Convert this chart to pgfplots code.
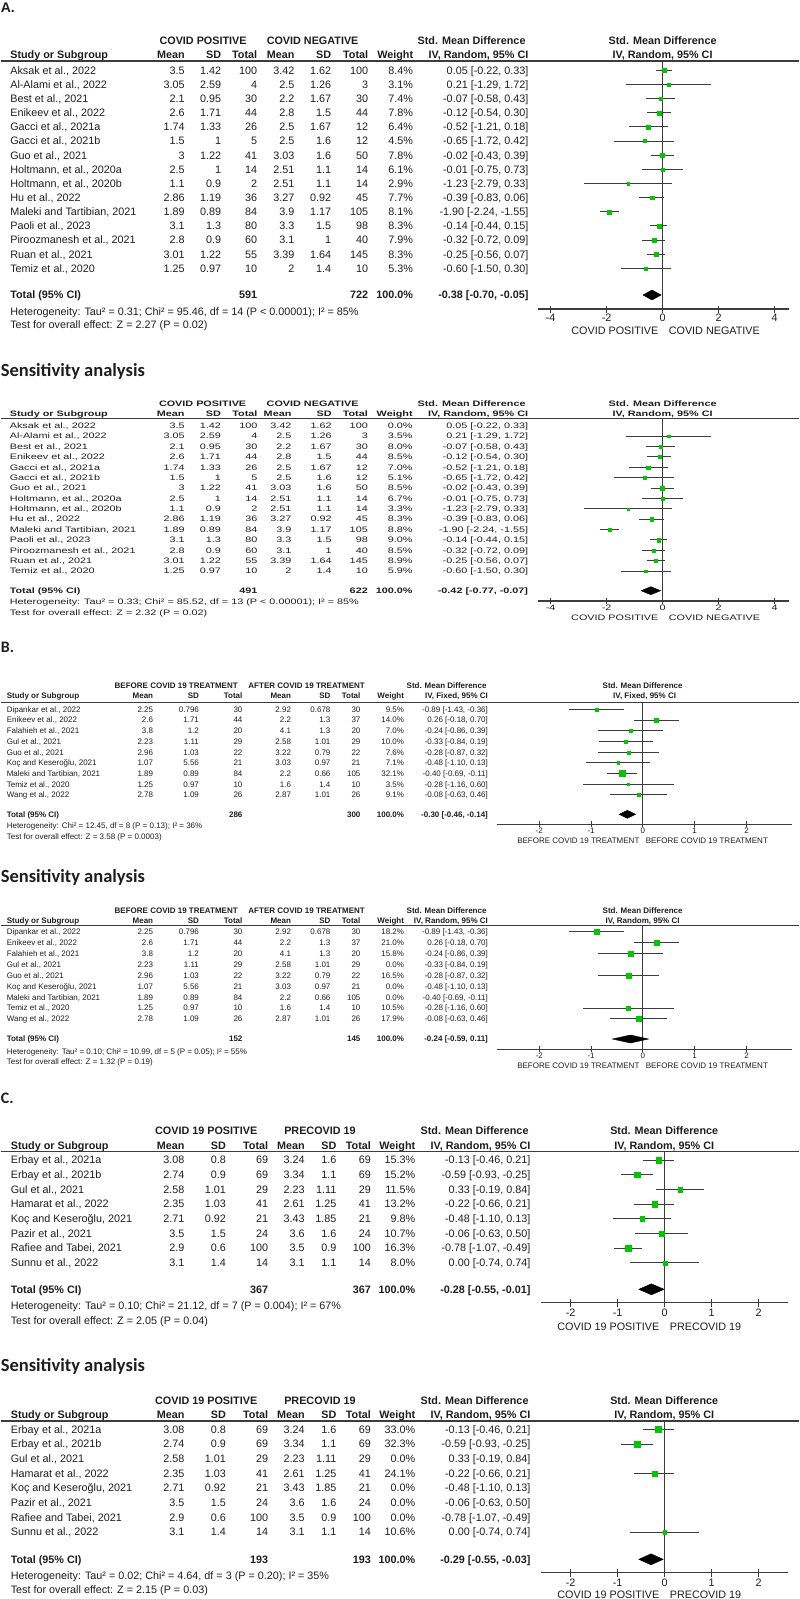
\documentclass[border=0pt]{standalone}
\usepackage{pgfplots}
\pgfplotsset{compat=1.18}
\usepackage{fontspec}
\setmainfont{Liberation Sans}
\newfontfamily\fsens{Liberation Sans}[FakeStretch=1.37]
\newfontfamily\fcal{Carlito}
\definecolor{gr}{RGB}{0,200,0}
\definecolor{txt}{RGB}{30,30,30}
\definecolor{ln}{RGB}{60,60,60}
\newcommand\fT{\fontsize{10.8}{12}\selectfont}
\tikzset{T/.style={font=\fT, inner sep=0pt, text=txt},
         B/.style={inner sep=0pt, text=txt, font=\fT\bfseries}}
\newcommand\setcols[9]{\def\xS{#1}\def\xMa{#2}\def\xSa{#3}\def\xNa{#4}\def\xMb{#5}\def\xSb{#6}\def\xNb{#7}\def\xW{#8}\def\xCI{#9}}
\newcommand\setrows[3]{\def\yz{#1}\def\dy{#2}\def\yoff{#3}}
\newcommand\Yb[1]{\pgfmathsetmacro\yb{-((#1)+\yoff)}}
\newcommand\Row[9]{%
  \pgfmathsetmacro\yb{-(\yz+(#1)*\dy+\yoff)}%
  \node[T,anchor=base west] at (\xS,\yb) {#2};%
  \node[T,anchor=base east] at (\xMa,\yb) {#3};%
  \node[T,anchor=base east] at (\xSa,\yb) {#4};%
  \node[T,anchor=base east] at (\xNa,\yb) {#5};%
  \node[T,anchor=base east] at (\xMb,\yb) {#6};%
  \node[T,anchor=base east] at (\xSb,\yb) {#7};%
  \node[T,anchor=base east] at (\xNb,\yb) {#8};%
  \node[T,anchor=base east] at (\xW,\yb) {#9};}
\newcommand\Ci[1]{\node[T,anchor=base east] at (\xCI,\yb) {#1};}
\newcommand\Hdr[2]{%
  \Yb{#1}%
  \node[B,anchor=base west] at (\xS,\yb) {Study or Subgroup};%
  \node[B,anchor=base east] at (\xMa,\yb) {Mean};%
  \node[B,anchor=base east] at (\xSa,\yb) {SD};%
  \node[B,anchor=base east] at (\xNa,\yb) {Total};%
  \node[B,anchor=base east] at (\xMb,\yb) {Mean};%
  \node[B,anchor=base east] at (\xSb,\yb) {SD};%
  \node[B,anchor=base east] at (\xNb,\yb) {Total};%
  \node[B,anchor=base east] at (\xW,\yb) {Weight};%
  \node[B,anchor=base east] at (\xCI,\yb) {#2};}
\newcommand\Tot[4]{%
  \Yb{#1}%
  \node[B,anchor=base west] at (\xS,\yb) {Total (95\% CI)};%
  \node[B,anchor=base east] at (\xNa,\yb) {#2};%
  \node[B,anchor=base east] at (\xNb,\yb) {#3};%
  \node[B,anchor=base east] at (\xW,\yb) {100.0\%};%
  \node[B,anchor=base east] at (\xCI,\yb) {#4};}
\newcommand\Line[2]{\Yb{#1}\node[T,anchor=base west] at (\xS,\yb) {#2};}
\newcommand\Bot[5]{\Yb{#1}\node[T,anchor=base east] at (#2,\yb) {#3};\node[T,anchor=base west] at (#4,\yb) {#5};}
\pgfplotsset{
 forest/.style={scale only axis, anchor=south west, clip=false, enlargelimits=false,
   axis x line=bottom, axis y line=none, ytick=\empty,
   x axis line style={-, draw=ln, line width=1.2pt},
   tick align=center, major tick length=7pt,
   xtick style={draw=ln, line width=1pt},
   xticklabel style={font=\fT, text=txt, inner sep=0pt, anchor=north}},
 pts/.style={scatter, only marks, mark=square*,
   scatter/use mapped color={draw=gr, fill=gr},
   mark options={line width=0.1pt},
   visualization depends on={#1*sqrt(\thisrow{w}) \as \ms},
   scatter/@pre marker code/.append style={/tikz/mark size=\ms},
   error bars/.cd, x dir=both, x explicit, error mark=none,
   error bar style={draw=ln, line width=0.9pt}},
}
\begin{document}
\begin{tikzpicture}[x=1pt,y=1pt]
\path (0,0) rectangle (798,-1599);
% ================= A main
\node[anchor=base west,inner sep=0pt,text=txt,font=\fontsize{14}{16}\selectfont\bfseries] at (0,-12) {A.};
\renewcommand\fT{\fontsize{10.8}{12}\selectfont}
\setcols{9.5}{184.3}{220.7}{256.7}{294}{330.7}{367.7}{412.7}{528}
\setrows{70.3}{14.14}{3.9}
\Yb{40.7}
\node[B,anchor=base] at (202.5,\yb) {COVID POSITIVE};
\node[B,anchor=base] at (312,\yb) {COVID NEGATIVE};
\node[B,anchor=base] at (471,\yb) {Std. Mean Difference};
\node[B,anchor=base] at (662,\yb) {Std. Mean Difference};
\Hdr{54.3}{IV, Random, 95\% CI}
\node[B,anchor=base] at (662,\yb) {IV, Random, 95\% CI};
\draw[ln, line width=1.2pt] (0,-61) -- (798,-61);
\Row{0}{Aksak et al., 2022}{3.5}{1.42}{100}{3.42}{1.62}{100}{8.4\%}\Ci{0.05 [-0.22, 0.33]}
\Row{1}{Al-Alami et al., 2022}{3.05}{2.59}{4}{2.5}{1.26}{3}{3.1\%}\Ci{0.21 [-1.29, 1.72]}
\Row{2}{Best et al., 2021}{2.1}{0.95}{30}{2.2}{1.67}{30}{7.4\%}\Ci{-0.07 [-0.58, 0.43]}
\Row{3}{Enikeev et al., 2022}{2.6}{1.71}{44}{2.8}{1.5}{44}{7.8\%}\Ci{-0.12 [-0.54, 0.30]}
\Row{4}{Gacci et al., 2021a}{1.74}{1.33}{26}{2.5}{1.67}{12}{6.4\%}\Ci{-0.52 [-1.21, 0.18]}
\Row{5}{Gacci et al., 2021b}{1.5}{1}{5}{2.5}{1.6}{12}{4.5\%}\Ci{-0.65 [-1.72, 0.42]}
\Row{6}{Guo et al., 2021}{3}{1.22}{41}{3.03}{1.6}{50}{7.8\%}\Ci{-0.02 [-0.43, 0.39]}
\Row{7}{Holtmann, et al., 2020a}{2.5}{1}{14}{2.51}{1.1}{14}{6.1\%}\Ci{-0.01 [-0.75, 0.73]}
\Row{8}{Holtmann, et al., 2020b}{1.1}{0.9}{2}{2.51}{1.1}{14}{2.9\%}\Ci{-1.23 [-2.79, 0.33]}
\Row{9}{Hu et al., 2022}{2.86}{1.19}{36}{3.27}{0.92}{45}{7.7\%}\Ci{-0.39 [-0.83, 0.06]}
\Row{10}{Maleki and Tartibian, 2021}{1.89}{0.89}{84}{3.9}{1.17}{105}{8.1\%}\Ci{-1.90 [-2.24, -1.55]}
\Row{11}{Paoli et al., 2023}{3.1}{1.3}{80}{3.3}{1.5}{98}{8.3\%}\Ci{-0.14 [-0.44, 0.15]}
\Row{12}{Piroozmanesh et al., 2021}{2.8}{0.9}{60}{3.1}{1}{40}{7.9\%}\Ci{-0.32 [-0.72, 0.09]}
\Row{13}{Ruan et al., 2021}{3.01}{1.22}{55}{3.39}{1.64}{145}{8.3\%}\Ci{-0.25 [-0.56, 0.07]}
\Row{14}{Temiz et al., 2020}{1.25}{0.97}{10}{2}{1.4}{10}{5.3\%}\Ci{-0.60 [-1.50, 0.30]}
\Tot{295}{591}{722}{-0.38 [-0.70, -0.05]}
\Line{311.5}{Heterogeneity: Tau² = 0.31; Chi² = 95.46, df = 14 (P < 0.00001); I² = 85\%}
\Line{325}{Test for overall effect: Z = 2.27 (P = 0.02)}
\Bot{331}{658}{COVID POSITIVE}{668}{COVID NEGATIVE}
\begin{axis}[forest, at={(537pt,-309pt)}, width=251pt, height=248pt, xmin=-4.464, xmax=4.5, ymin=-309, ymax=-61,
  xtick={-4,-2,0,2,4}, xticklabels={-4,-2,0,2,4}, xticklabel style={yshift=-1.5pt}]
\draw[ln, line width=0.9pt] (axis cs:0,-61) -- (axis cs:0,-309);
\addplot[pts=0.69] table[row sep=\\, x=e, y expr={-(70.3+\thisrow{i}*14.14)}, x error plus expr={\thisrow{hi}-\thisrow{e}}, x error minus expr={\thisrow{e}-\thisrow{lo}}] {
i e lo hi w\\
0 0.05 -0.22 0.33 8.4\\
1 0.21 -1.29 1.72 3.1\\
2 -0.07 -0.58 0.43 7.4\\
3 -0.12 -0.54 0.30 7.8\\
4 -0.52 -1.21 0.18 6.4\\
5 -0.65 -1.72 0.42 4.5\\
6 -0.02 -0.43 0.39 7.8\\
7 -0.01 -0.75 0.73 6.1\\
8 -1.23 -2.79 0.33 2.9\\
9 -0.39 -0.83 0.06 7.7\\
10 -1.90 -2.24 -1.55 8.1\\
11 -0.14 -0.44 0.15 8.3\\
12 -0.32 -0.72 0.09 7.9\\
13 -0.25 -0.56 0.07 8.3\\
14 -0.60 -1.50 0.30 5.3\\
};
\addplot[fill=black, draw=black] coordinates {(-0.70,-295) (-0.38,-290) (-0.05,-295) (-0.38,-300)} -- cycle;
\end{axis}
% ================= A sensitivity
\node[anchor=base west,inner sep=0pt,text=txt,font=\fcal\fontsize{18.5}{20}\selectfont\bfseries] at (0,-376) {Sensitivity analysis};
\renewcommand\fT{\fsens\fontsize{7.9}{9}\selectfont}
\setcols{9}{184.2}{220.5}{257}{291}{331.3}{367.4}{412.2}{527.7}
\setrows{425.7}{10.38}{2.8}
\Yb{403.3}
\node[B,anchor=base] at (202,\yb) {COVID POSITIVE};
\node[B,anchor=base] at (312,\yb) {COVID NEGATIVE};
\node[B,anchor=base] at (471,\yb) {Std. Mean Difference};
\node[B,anchor=base] at (662,\yb) {Std. Mean Difference};
\Hdr{414}{IV, Random, 95\% CI}
\node[B,anchor=base] at (662,\yb) {IV, Random, 95\% CI};
\draw[ln, line width=1.2pt] (0,-418.5) -- (798,-418.5);
\Row{0}{Aksak et al., 2022}{3.5}{1.42}{100}{3.42}{1.62}{100}{0.0\%}\Ci{0.05 [-0.22, 0.33]}
\Row{1}{Al-Alami et al., 2022}{3.05}{2.59}{4}{2.5}{1.26}{3}{3.5\%}\Ci{0.21 [-1.29, 1.72]}
\Row{2}{Best et al., 2021}{2.1}{0.95}{30}{2.2}{1.67}{30}{8.0\%}\Ci{-0.07 [-0.58, 0.43]}
\Row{3}{Enikeev et al., 2022}{2.6}{1.71}{44}{2.8}{1.5}{44}{8.5\%}\Ci{-0.12 [-0.54, 0.30]}
\Row{4}{Gacci et al., 2021a}{1.74}{1.33}{26}{2.5}{1.67}{12}{7.0\%}\Ci{-0.52 [-1.21, 0.18]}
\Row{5}{Gacci et al., 2021b}{1.5}{1}{5}{2.5}{1.6}{12}{5.1\%}\Ci{-0.65 [-1.72, 0.42]}
\Row{6}{Guo et al., 2021}{3}{1.22}{41}{3.03}{1.6}{50}{8.5\%}\Ci{-0.02 [-0.43, 0.39]}
\Row{7}{Holtmann, et al., 2020a}{2.5}{1}{14}{2.51}{1.1}{14}{6.7\%}\Ci{-0.01 [-0.75, 0.73]}
\Row{8}{Holtmann, et al., 2020b}{1.1}{0.9}{2}{2.51}{1.1}{14}{3.3\%}\Ci{-1.23 [-2.79, 0.33]}
\Row{9}{Hu et al., 2022}{2.86}{1.19}{36}{3.27}{0.92}{45}{8.3\%}\Ci{-0.39 [-0.83, 0.06]}
\Row{10}{Maleki and Tartibian, 2021}{1.89}{0.89}{84}{3.9}{1.17}{105}{8.8\%}\Ci{-1.90 [-2.24, -1.55]}
\Row{11}{Paoli et al., 2023}{3.1}{1.3}{80}{3.3}{1.5}{98}{9.0\%}\Ci{-0.14 [-0.44, 0.15]}
\Row{12}{Piroozmanesh et al., 2021}{2.8}{0.9}{60}{3.1}{1}{40}{8.5\%}\Ci{-0.32 [-0.72, 0.09]}
\Row{13}{Ruan et al., 2021}{3.01}{1.22}{55}{3.39}{1.64}{145}{8.9\%}\Ci{-0.25 [-0.56, 0.07]}
\Row{14}{Temiz et al., 2020}{1.25}{0.97}{10}{2}{1.4}{10}{5.9\%}\Ci{-0.60 [-1.50, 0.30]}
\Tot{590.7}{491}{622}{-0.42 [-0.77, -0.07]}
\Line{602}{Heterogeneity: Tau² = 0.33; Chi² = 85.52, df = 13 (P < 0.00001); I² = 85\%}
\Line{612.7}{Test for overall effect: Z = 2.32 (P = 0.02)}
\Bot{617.5}{658}{COVID POSITIVE}{668}{COVID NEGATIVE}
\begin{axis}[forest, at={(537pt,-601pt)}, width=251pt, height=182.5pt, xmin=-4.464, xmax=4.5, ymin=-601, ymax=-418.5,
  xtick={-4,-2,0,2,4}, xticklabels={-4,-2,0,2,4}, xticklabel style={yshift=-0.5pt}, major tick length=6pt]
\draw[ln, line width=0.9pt] (axis cs:0,-418.5) -- (axis cs:0,-601);
\addplot[pts=0.58] table[row sep=\\, x=e, y expr={-(425.7+\thisrow{i}*10.38)}, x error plus expr={\thisrow{hi}-\thisrow{e}}, x error minus expr={\thisrow{e}-\thisrow{lo}}] {
i e lo hi w\\
1 0.21 -1.29 1.72 3.5\\
2 -0.07 -0.58 0.43 8.0\\
3 -0.12 -0.54 0.30 8.5\\
4 -0.52 -1.21 0.18 7.0\\
5 -0.65 -1.72 0.42 5.1\\
6 -0.02 -0.43 0.39 8.5\\
7 -0.01 -0.75 0.73 6.7\\
8 -1.23 -2.79 0.33 3.3\\
9 -0.39 -0.83 0.06 8.3\\
10 -1.90 -2.24 -1.55 8.8\\
11 -0.14 -0.44 0.15 9.0\\
12 -0.32 -0.72 0.09 8.5\\
13 -0.25 -0.56 0.07 8.9\\
14 -0.60 -1.50 0.30 5.9\\
};
\addplot[fill=black, draw=black] coordinates {(-0.77,-590.7) (-0.42,-586.7) (-0.07,-590.7) (-0.42,-594.7)} -- cycle;
\end{axis}
% ================= B main
\node[anchor=base west,inner sep=0pt,text=txt,font=\fcal\fontsize{16}{18}\selectfont\bfseries] at (0,-652) {B.};
\renewcommand\fT{\fontsize{8}{9.5}\selectfont}
\setcols{6}{152.7}{198.5}{242}{290.6}{330}{360}{403.6}{487.5}
\setrows{709.3}{10.7}{2.9}
\Yb{686}
\node[B,anchor=base] at (175.6,\yb) {BEFORE COVID 19 TREATMENT};
\node[B,anchor=base] at (306,\yb) {AFTER COVID 19 TREATMENT};
\node[B,anchor=base] at (446,\yb) {Std. Mean Difference};
\node[B,anchor=base] at (642,\yb) {Std. Mean Difference};
\Hdr{696}{IV, Fixed, 95\% CI}
\node[B,anchor=base] at (644,\yb) {IV, Fixed, 95\% CI};
\draw[ln, line width=1.2pt] (0,-702.3) -- (798,-702.3);
\Row{0}{Dipankar et al., 2022}{2.25}{0.796}{30}{2.92}{0.678}{30}{9.5\%}\Ci{-0.89 [-1.43, -0.36]}
\Row{1}{Enikeev et al., 2022}{2.6}{1.71}{44}{2.2}{1.3}{37}{14.0\%}\Ci{0.26 [-0.18, 0.70]}
\Row{2}{Falahieh et al., 2021}{3.8}{1.2}{20}{4.1}{1.3}{20}{7.0\%}\Ci{-0.24 [-0.86, 0.39]}
\Row{3}{Gul et al., 2021}{2.23}{1.11}{29}{2.58}{1.01}{29}{10.0\%}\Ci{-0.33 [-0.84, 0.19]}
\Row{4}{Guo et al., 2021}{2.96}{1.03}{22}{3.22}{0.79}{22}{7.6\%}\Ci{-0.28 [-0.87, 0.32]}
\Row{5}{Koç and Keseroğlu, 2021}{1.07}{5.56}{21}{3.03}{0.97}{21}{7.1\%}\Ci{-0.48 [-1.10, 0.13]}
\Row{6}{Maleki and Tartibian, 2021}{1.89}{0.89}{84}{2.2}{0.66}{105}{32.1\%}\Ci{-0.40 [-0.69, -0.11]}
\Row{7}{Temiz et al., 2020}{1.25}{0.97}{10}{1.6}{1.4}{10}{3.5\%}\Ci{-0.28 [-1.16, 0.60]}
\Row{8}{Wang et al., 2022}{2.78}{1.09}{26}{2.87}{1.01}{26}{9.1\%}\Ci{-0.08 [-0.63, 0.46]}
\Tot{814.3}{286}{300}{-0.30 [-0.46, -0.14]}
\Line{826}{Heterogeneity: Chi² = 12.45, df = 8 (P = 0.13); I² = 36\%}
\Line{836.7}{Test for overall effect: Z = 3.58 (P = 0.0003)}
\Bot{841}{639}{BEFORE COVID 19 TREATMENT}{645}{BEFORE COVID 19 TREATMENT}
\begin{axis}[forest, at={(496pt,-824.3pt)}, width=295pt, height=122pt, xmin=-2.824, xmax=2.871, ymin=-824.3, ymax=-702.3,
  xtick={-2,-1,0,1,2}, xticklabels={-2,-1,0,1,2}, xticklabel style={yshift=-0.5pt}, major tick length=6pt]
\draw[ln, line width=0.9pt] (axis cs:0,-702.3) -- (axis cs:0,-824.3);
\addplot[pts=0.53] table[row sep=\\, x=e, y expr={-(709.3+\thisrow{i}*10.7)}, x error plus expr={\thisrow{hi}-\thisrow{e}}, x error minus expr={\thisrow{e}-\thisrow{lo}}] {
i e lo hi w\\
0 -0.89 -1.43 -0.36 9.5\\
1 0.26 -0.18 0.70 14.0\\
2 -0.24 -0.86 0.39 7.0\\
3 -0.33 -0.84 0.19 10.0\\
4 -0.28 -0.87 0.32 7.6\\
5 -0.48 -1.10 0.13 7.1\\
6 -0.40 -0.69 -0.11 32.1\\
7 -0.28 -1.16 0.60 3.5\\
8 -0.08 -0.63 0.46 9.1\\
};
\addplot[fill=black, draw=black] coordinates {(-0.46,-814.3) (-0.30,-810.3) (-0.14,-814.3) (-0.30,-818.3)} -- cycle;
\end{axis}
% ================= B sensitivity
\node[anchor=base west,inner sep=0pt,text=txt,font=\fcal\fontsize{18.5}{20}\selectfont\bfseries] at (0,-882.5) {Sensitivity analysis};
\setrows{931.7}{10.9}{2.9}
\Yb{911}
\node[B,anchor=base] at (175.6,\yb) {BEFORE COVID 19 TREATMENT};
\node[B,anchor=base] at (306,\yb) {AFTER COVID 19 TREATMENT};
\node[B,anchor=base] at (446,\yb) {Std. Mean Difference};
\node[B,anchor=base] at (642,\yb) {Std. Mean Difference};
\Hdr{921}{IV, Random, 95\% CI}
\node[B,anchor=base] at (642,\yb) {IV, Random, 95\% CI};
\draw[ln, line width=1.2pt] (0,-925.7) -- (798,-925.7);
\Row{0}{Dipankar et al., 2022}{2.25}{0.796}{30}{2.92}{0.678}{30}{18.2\%}\Ci{-0.89 [-1.43, -0.36]}
\Row{1}{Enikeev et al., 2022}{2.6}{1.71}{44}{2.2}{1.3}{37}{21.0\%}\Ci{0.26 [-0.18, 0.70]}
\Row{2}{Falahieh et al., 2021}{3.8}{1.2}{20}{4.1}{1.3}{20}{15.8\%}\Ci{-0.24 [-0.86, 0.39]}
\Row{3}{Gul et al., 2021}{2.23}{1.11}{29}{2.58}{1.01}{29}{0.0\%}\Ci{-0.33 [-0.84, 0.19]}
\Row{4}{Guo et al., 2021}{2.96}{1.03}{22}{3.22}{0.79}{22}{16.5\%}\Ci{-0.28 [-0.87, 0.32]}
\Row{5}{Koç and Keseroğlu, 2021}{1.07}{5.56}{21}{3.03}{0.97}{21}{0.0\%}\Ci{-0.48 [-1.10, 0.13]}
\Row{6}{Maleki and Tartibian, 2021}{1.89}{0.89}{84}{2.2}{0.66}{105}{0.0\%}\Ci{-0.40 [-0.69, -0.11]}
\Row{7}{Temiz et al., 2020}{1.25}{0.97}{10}{1.6}{1.4}{10}{10.5\%}\Ci{-0.28 [-1.16, 0.60]}
\Row{8}{Wang et al., 2022}{2.78}{1.09}{26}{2.87}{1.01}{26}{17.9\%}\Ci{-0.08 [-0.63, 0.46]}
\Tot{1039}{152}{145}{-0.24 [-0.59, 0.11]}
\Line{1051.7}{Heterogeneity: Tau² = 0.10; Chi² = 10.99, df = 5 (P = 0.05); I² = 55\%}
\Line{1061.7}{Test for overall effect: Z = 1.32 (P = 0.19)}
\Bot{1066}{639}{BEFORE COVID 19 TREATMENT}{645}{BEFORE COVID 19 TREATMENT}
\begin{axis}[forest, at={(496pt,-1049.3pt)}, width=295pt, height=123.6pt, xmin=-2.824, xmax=2.871, ymin=-1049.3, ymax=-925.7,
  xtick={-2,-1,0,1,2}, xticklabels={-2,-1,0,1,2}, xticklabel style={yshift=-0.5pt}, major tick length=6pt]
\draw[ln, line width=0.9pt] (axis cs:0,-925.7) -- (axis cs:0,-1049.3);
\addplot[pts=0.57] table[row sep=\\, x=e, y expr={-(931.7+\thisrow{i}*10.9)}, x error plus expr={\thisrow{hi}-\thisrow{e}}, x error minus expr={\thisrow{e}-\thisrow{lo}}] {
i e lo hi w\\
0 -0.89 -1.43 -0.36 18.2\\
1 0.26 -0.18 0.70 21.0\\
2 -0.24 -0.86 0.39 15.8\\
4 -0.28 -0.87 0.32 16.5\\
7 -0.28 -1.16 0.60 10.5\\
8 -0.08 -0.63 0.46 17.9\\
};
\addplot[fill=black, draw=black] coordinates {(-0.59,-1039) (-0.24,-1035) (0.11,-1039) (-0.24,-1043)} -- cycle;
\end{axis}
% ================= C main
\node[anchor=base west,inner sep=0pt,text=txt,font=\fcal\fontsize{16}{18}\selectfont\bfseries] at (0,-1103.5) {C.};
\renewcommand\fT{\fontsize{10.8}{12}\selectfont}
\setcols{10}{184}{225.4}{267.7}{304.3}{336}{370.5}{414.8}{530}
\setrows{1160}{14.67}{3.9}
\Yb{1131}
\node[B,anchor=base] at (205.6,\yb) {COVID 19 POSITIVE};
\node[B,anchor=base] at (319.4,\yb) {PRECOVID 19};
\node[B,anchor=base] at (474,\yb) {Std. Mean Difference};
\node[B,anchor=base] at (663.6,\yb) {Std. Mean Difference};
\Hdr{1145.7}{IV, Random, 95\% CI}
\node[B,anchor=base] at (663.6,\yb) {IV, Random, 95\% CI};
\draw[ln, line width=1.2pt] (0,-1151.7) -- (798,-1151.7);
\Row{0}{Erbay et al., 2021a}{3.08}{0.8}{69}{3.24}{1.6}{69}{15.3\%}\Ci{-0.13 [-0.46, 0.21]}
\Row{1}{Erbay et al., 2021b}{2.74}{0.9}{69}{3.34}{1.1}{69}{15.2\%}\Ci{-0.59 [-0.93, -0.25]}
\Row{2}{Gul et al., 2021}{2.58}{1.01}{29}{2.23}{1.11}{29}{11.5\%}\Ci{0.33 [-0.19, 0.84]}
\Row{3}{Hamarat et al., 2022}{2.35}{1.03}{41}{2.61}{1.25}{41}{13.2\%}\Ci{-0.22 [-0.66, 0.21]}
\Row{4}{Koç and Keseroğlu, 2021}{2.71}{0.92}{21}{3.43}{1.85}{21}{9.8\%}\Ci{-0.48 [-1.10, 0.13]}
\Row{5}{Pazir et al., 2021}{3.5}{1.5}{24}{3.6}{1.6}{24}{10.7\%}\Ci{-0.06 [-0.63, 0.50]}
\Row{6}{Rafiee and Tabei, 2021}{2.9}{0.6}{100}{3.5}{0.9}{100}{16.3\%}\Ci{-0.78 [-1.07, -0.49]}
\Row{7}{Sunnu et al., 2022}{3.1}{1.4}{14}{3.1}{1.1}{14}{8.0\%}\Ci{0.00 [-0.74, 0.74]}
\Tot{1289.3}{367}{367}{-0.28 [-0.55, -0.01]}
\Line{1306}{Heterogeneity: Tau² = 0.10; Chi² = 21.12, df = 7 (P = 0.004); I² = 67\%}
\Line{1320.7}{Test for overall effect: Z = 2.05 (P = 0.04)}
\Bot{1326.5}{659}{COVID 19 POSITIVE}{669}{PRECOVID 19}
\begin{axis}[forest, at={(540.5pt,-1302.7pt)}, width=247.3pt, height=151pt, xmin=-2.628, xmax=2.634, ymin=-1302.7, ymax=-1151.7,
  xtick={-2,-1,0,1,2}, xticklabels={-2,-1,0,1,2}, xticklabel style={yshift=-2pt}, major tick length=8pt]
\draw[ln, line width=0.9pt] (axis cs:0,-1151.7) -- (axis cs:0,-1302.7);
\addplot[pts=0.7] table[row sep=\\, x=e, y expr={-(1160+\thisrow{i}*14.67)}, x error plus expr={\thisrow{hi}-\thisrow{e}}, x error minus expr={\thisrow{e}-\thisrow{lo}}] {
i e lo hi w\\
0 -0.13 -0.46 0.21 15.3\\
1 -0.59 -0.93 -0.25 15.2\\
2 0.33 -0.19 0.84 11.5\\
3 -0.22 -0.66 0.21 13.2\\
4 -0.48 -1.10 0.13 9.8\\
5 -0.06 -0.63 0.50 10.7\\
6 -0.78 -1.07 -0.49 16.3\\
7 0.00 -0.74 0.74 8.0\\
};
\addplot[fill=black, draw=black] coordinates {(-0.55,-1289.3) (-0.28,-1283.8) (-0.01,-1289.3) (-0.28,-1294.8)} -- cycle;
\end{axis}
% ================= C sensitivity
\node[anchor=base west,inner sep=0pt,text=txt,font=\fcal\fontsize{18.5}{20}\selectfont\bfseries] at (0,-1371) {Sensitivity analysis};
\setrows{1429.3}{14.67}{3.9}
\Yb{1400.7}
\node[B,anchor=base] at (205.6,\yb) {COVID 19 POSITIVE};
\node[B,anchor=base] at (319.4,\yb) {PRECOVID 19};
\node[B,anchor=base] at (474,\yb) {Std. Mean Difference};
\node[B,anchor=base] at (663.6,\yb) {Std. Mean Difference};
\Hdr{1415}{IV, Random, 95\% CI}
\node[B,anchor=base] at (663.6,\yb) {IV, Random, 95\% CI};
\draw[ln, line width=1.2pt] (0,-1421) -- (798,-1421);
\Row{0}{Erbay et al., 2021a}{3.08}{0.8}{69}{3.24}{1.6}{69}{33.0\%}\Ci{-0.13 [-0.46, 0.21]}
\Row{1}{Erbay et al., 2021b}{2.74}{0.9}{69}{3.34}{1.1}{69}{32.3\%}\Ci{-0.59 [-0.93, -0.25]}
\Row{2}{Gul et al., 2021}{2.58}{1.01}{29}{2.23}{1.11}{29}{0.0\%}\Ci{0.33 [-0.19, 0.84]}
\Row{3}{Hamarat et al., 2022}{2.35}{1.03}{41}{2.61}{1.25}{41}{24.1\%}\Ci{-0.22 [-0.66, 0.21]}
\Row{4}{Koç and Keseroğlu, 2021}{2.71}{0.92}{21}{3.43}{1.85}{21}{0.0\%}\Ci{-0.48 [-1.10, 0.13]}
\Row{5}{Pazir et al., 2021}{3.5}{1.5}{24}{3.6}{1.6}{24}{0.0\%}\Ci{-0.06 [-0.63, 0.50]}
\Row{6}{Rafiee and Tabei, 2021}{2.9}{0.6}{100}{3.5}{0.9}{100}{0.0\%}\Ci{-0.78 [-1.07, -0.49]}
\Row{7}{Sunnu et al., 2022}{3.1}{1.4}{14}{3.1}{1.1}{14}{10.6\%}\Ci{0.00 [-0.74, 0.74]}
\Tot{1559.3}{193}{193}{-0.29 [-0.55, -0.03]}
\Line{1575.7}{Heterogeneity: Tau² = 0.02; Chi² = 4.64, df = 3 (P = 0.20); I² = 35\%}
\Line{1589.3}{Test for overall effect: Z = 2.15 (P = 0.03)}
\Bot{1594.5}{659}{COVID 19 POSITIVE}{669}{PRECOVID 19}
\begin{axis}[forest, at={(540.5pt,-1572.7pt)}, width=247.3pt, height=151.7pt, xmin=-2.628, xmax=2.634, ymin=-1572.7, ymax=-1421,
  xtick={-2,-1,0,1,2}, xticklabels={-2,-1,0,1,2}, xticklabel style={yshift=-2.5pt}, major tick length=8pt]
\draw[ln, line width=0.9pt] (axis cs:0,-1421) -- (axis cs:0,-1572.7);
\addplot[pts=0.52] table[row sep=\\, x=e, y expr={-(1429.3+\thisrow{i}*14.67)}, x error plus expr={\thisrow{hi}-\thisrow{e}}, x error minus expr={\thisrow{e}-\thisrow{lo}}] {
i e lo hi w\\
0 -0.13 -0.46 0.21 33.0\\
1 -0.59 -0.93 -0.25 32.3\\
3 -0.22 -0.66 0.21 24.1\\
7 0.00 -0.74 0.74 10.6\\
};
\addplot[fill=black, draw=black] coordinates {(-0.55,-1559.3) (-0.29,-1553.8) (-0.03,-1559.3) (-0.29,-1564.8)} -- cycle;
\end{axis}
\end{tikzpicture}
\end{document}
